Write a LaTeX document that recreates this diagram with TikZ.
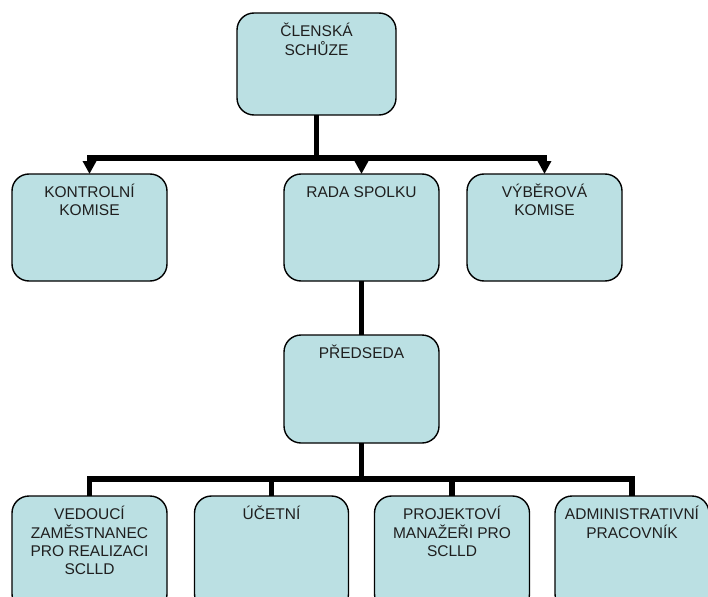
\documentclass[tikz,border=0pt]{standalone}
\usepackage{fontspec}
\setmainfont{Liberation Sans}
\usetikzlibrary{arrows.meta}
\definecolor{boxfill}{RGB}{187,224,227}
\begin{document}
\begin{tikzpicture}[x=1pt,y=-1pt,
  orgbox/.style={draw=black, line width=1.4pt, fill=boxfill, rounded corners=17pt,
    inner sep=0pt, outer sep=0pt},
  lbl/.style={anchor=base, inner sep=0pt, text=black!88,
    font=\fontsize{15.5}{18.2}\selectfont},
  conn/.style={line width=5.5pt, draw=black},
  arr/.style={conn, -{Triangle[length=13pt,width=13pt]}}
]
\clip (0,0) rectangle (708,596);
\useasboundingbox (0,0) rectangle (708,596);
\fill[white] (0,0) rectangle (708,596);

% boxes
\node[orgbox, minimum width=159pt, minimum height=102pt] (top) at (316.5,64) {};
\node[orgbox, minimum width=155pt, minimum height=107pt] (kk) at (89.5,227.5) {};
\node[orgbox, minimum width=155pt, minimum height=107pt] (rada) at (361.5,227.5) {};
\node[orgbox, minimum width=155pt, minimum height=107pt] (vyb) at (544.5,227.5) {};
\node[orgbox, minimum width=155pt, minimum height=108pt] (pres) at (361.5,389) {};
\node[orgbox, minimum width=155pt, minimum height=115pt] (b1) at (89.5,553.5) {};
\node[orgbox, minimum width=154pt, minimum height=115pt] (b2) at (271.5,553.5) {};
\node[orgbox, minimum width=155pt, minimum height=115pt] (b3) at (452,553.5) {};
\node[orgbox, minimum width=154pt, minimum height=115pt] (b4) at (632,553.5) {};

% labels
\node[lbl] (ltop) at ([yshift=-23.5pt]top.north) {\begin{tabular}[t]{@{}c@{}}ČLENSKÁ\\SCHŮZE\end{tabular}};
\node[lbl] (lkk) at ([yshift=-23.5pt]kk.north) {\begin{tabular}[t]{@{}c@{}}KONTROLNÍ\\KOMISE\end{tabular}};
\node[lbl] (lrada) at ([yshift=-23.5pt]rada.north) {\begin{tabular}[t]{@{}c@{}}RADA SPOLKU\end{tabular}};
\node[lbl] (lvyb) at ([yshift=-23.5pt]vyb.north) {\begin{tabular}[t]{@{}c@{}}VÝBĚROVÁ\\KOMISE\end{tabular}};
\node[lbl] (lpres) at ([yshift=-23.5pt]pres.north) {\begin{tabular}[t]{@{}c@{}}PŘEDSEDA\end{tabular}};
\node[lbl] (lb1) at ([yshift=-23.5pt]b1.north) {\begin{tabular}[t]{@{}c@{}}VEDOUCÍ\\ZAMĚSTNANEC\\PRO REALIZACI\\SCLLD\end{tabular}};
\node[lbl] (lb2) at ([yshift=-23.5pt]b2.north) {\begin{tabular}[t]{@{}c@{}}ÚČETNÍ\end{tabular}};
\node[lbl] (lb3) at ([yshift=-23.5pt]b3.north) {\begin{tabular}[t]{@{}c@{}}PROJEKTOVÍ\\MANAŽEŘI PRO\\SCLLD\end{tabular}};
\node[lbl] (lb4) at ([yshift=-23.5pt]b4.north) {\begin{tabular}[t]{@{}c@{}}ADMINISTRATIVNÍ\\PRACOVNÍK\end{tabular}};

% connectors: top level
\draw[conn] (top.south) -- ++(0,43) coordinate (j1);
\draw[arr] (j1) -| (kk.north);
\draw[arr] (j1) -| (rada.north);
\draw[arr] (j1) -| (vyb.north);

% rada -> predseda
\draw[conn] (rada.south) -- (pres.north);

% predseda -> bottom row
\draw[conn] (pres.south) -- ++(0,36) coordinate (j2);
\draw[conn] (j2) -| (b1.north);
\draw[conn] (j2) -| (b2.north);
\draw[conn] (j2) -| (b3.north);
\draw[conn] (j2) -| (b4.north);
\end{tikzpicture}
\end{document}
